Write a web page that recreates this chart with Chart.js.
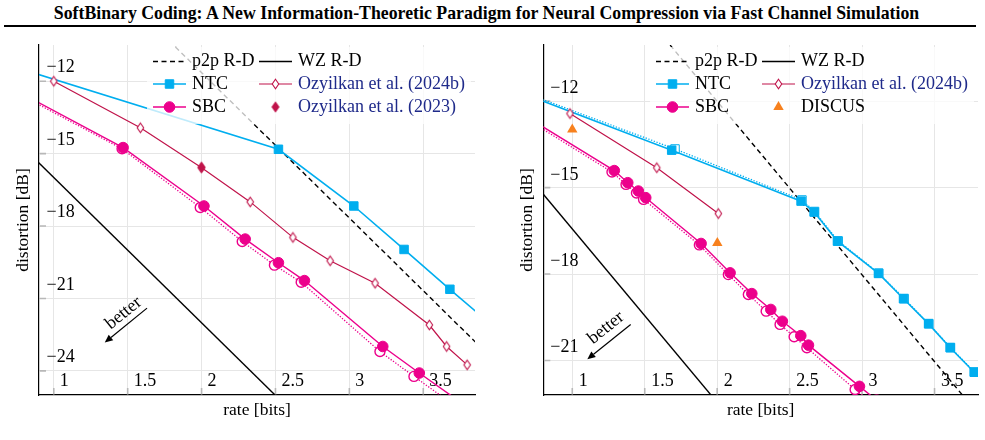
<!DOCTYPE html>
<html>
<head>
<meta charset="utf-8">
<script src="https://cdn.jsdelivr.net/npm/chart.js@4.4.1/dist/chart.umd.min.js"></script>
<style>
  body { margin: 0; background: #fff; width: 985px; height: 440px; overflow: hidden; position: relative; font-family: 'Liberation Serif', serif; }
  #title { position: absolute; left: -6px; top: 3px; width: 985px; text-align: center; font-weight: bold; font-size: 17.8px; line-height: 20px; white-space: nowrap; }
  #rule { position: absolute; left: 4px; top: 25px; width: 972px; height: 2px; background: #000; }
  canvas { position: absolute; top: 0; }
</style>
</head>
<body>
<div id="title">SoftBinary Coding: A New Information-Theoretic Paradigm for Neural Compression via Fast Channel Simulation</div>
<div id="rule"></div>
<canvas id="left" width="492" height="440" style="left:0"></canvas>
<canvas id="right" width="490" height="440" style="left:495px"></canvas>
<script>
// tick positions
const X_TICKS = [1, 1.5, 2, 2.5, 3, 3.5];
const L_Y_TICKS = [-24, -21, -18, -15, -12];
const R_Y_TICKS = [-21, -18, -15, -12];

// left plot (rate [bits] / distortion [dB])
const L_wzRate = [0.8, 2.6];
const L_wzDist = [-14.79, -25.62];
const L_p2pRate = [1.7, 3.9];
const L_p2pDist = [-9.84, -23.09];
const L_ntcRate = [0.8, 2.52, 3.03, 3.37, 3.68, 4.0];
const L_ntcDist = [-11.54, -14.82, -17.17, -18.97, -20.62, -22.3];
const L_ozy24Rate = [1.0, 1.586, 1.998, 2.329, 2.618, 2.870, 3.174, 3.541, 3.658, 3.797];
const L_ozy24Dist = [-12.0, -13.93, -15.58, -17.0, -18.47, -19.44, -20.37, -22.10, -22.99, -23.75];
const L_ozy23Rate = [2.0];
const L_ozy23Dist = [-15.57];
const L_sbcRate = [0.8, 1.469, 2.016, 2.295, 2.520, 2.696, 3.226, 3.473, 3.75];
const L_sbcDist = [-12.57, -14.75, -17.17, -18.54, -19.52, -20.26, -22.99, -24.09, -25.29];
const L_sbcOpenRate = [0.8, 1.462, 1.991, 2.275, 2.493, 2.674, 3.207, 3.437, 3.75];
const L_sbcOpenDist = [-12.65, -14.80, -17.23, -18.64, -19.62, -20.33, -23.20, -24.23, -25.6];

// right plot
const R_wzRate = [0.7, 2.1];
const R_wzDist = [-14.63, -23.06];
const R_p2pRate = [1.6, 3.9];
const R_p2pDist = [-9.6, -23.45];
const R_ntcRate = [0.7, 1.686, 2.579, 2.669, 2.830, 3.113, 3.286, 3.459, 3.608, 3.774, 3.9];
const R_ntcDist = [-11.81, -13.70, -15.47, -15.85, -16.86, -17.98, -18.86, -19.73, -20.56, -21.41, -22.04];
const R_ntcDotRate = [0.7, 1.709, 2.585, 2.672, 2.835, 3.115, 3.29, 3.46, 3.61, 3.776, 3.9];
const R_ntcDotDist = [-11.76, -13.66, -15.43, -15.83, -16.85, -17.97, -18.85, -19.72, -20.55, -21.40, -22.03];
const R_ozy24Rate = [0.984, 1.583, 2.008];
const R_ozy24Dist = [-12.43, -14.31, -15.90];
const R_discusRate = [1.0, 2.001];
const R_discusDist = [-12.98, -16.92];
const R_sbcRate = [0.7, 1.290, 1.383, 1.456, 1.507, 1.889, 2.089, 2.239, 2.370, 2.450, 2.577, 2.630, 2.982, 3.1];
const R_sbcDist = [-12.59, -14.41, -14.83, -15.12, -15.35, -16.94, -17.96, -18.68, -19.23, -19.64, -20.14, -20.47, -21.90, -22.38];
const R_sbcOpenRate = [0.7, 1.274, 1.371, 1.443, 1.492, 1.877, 2.077, 2.215, 2.338, 2.434, 2.531, 2.619, 2.952, 3.1];
const R_sbcOpenDist = [-12.67, -14.46, -14.89, -15.19, -15.41, -16.99, -18.02, -18.71, -19.29, -19.75, -20.18, -20.56, -22.01, -22.62];

const FONT = "'Liberation Serif', 'DejaVu Serif', serif";
const NTC_C = '#00aeef', SBC_C = '#ec008c', OZY_C = '#c0134a', DISCUS_C = '#f7811e', CITE_C = '#1f2a8a';
const GRID_C = '#e6e6e6';

function pts(xs, ys) { return xs.map((x, i) => ({ x: x, y: ys[i] })); }

// pgfplots-like diamond (taller than wide)
function diamond(w, h, fill, stroke, lw) {
  const c = document.createElement('canvas');
  c.width = Math.ceil(w + lw * 2 + 2); c.height = Math.ceil(h + lw * 2 + 2);
  const g = c.getContext('2d');
  const cx = c.width / 2, cy = c.height / 2;
  g.beginPath();
  g.moveTo(cx, cy - h / 2); g.lineTo(cx + w / 2, cy); g.lineTo(cx, cy + h / 2); g.lineTo(cx - w / 2, cy);
  g.closePath();
  g.fillStyle = fill; g.fill();
  if (lw > 0) { g.strokeStyle = stroke; g.lineWidth = lw; g.stroke(); }
  return c;
}
const openDiamond = diamond(6.5, 9.5, '#fff', OZY_C, 1.1);
const fullDiamond = diamond(8, 11.5, OZY_C, OZY_C, 0);

function fmt(v) { return v < 0 ? '\u2212' + Math.abs(v) : String(v); }

function line(label, xs, ys, color, extra) {
  return Object.assign({
    label: label, data: pts(xs, ys), showLine: true, tension: 0,
    borderColor: color, borderWidth: 1.4, pointRadius: 0,
    pointBackgroundColor: color, pointBorderColor: color, pointBorderWidth: 1
  }, extra || {});
}

const decor = {
  id: 'decor',
  beforeDatasetsDraw(chart) {
    const { ctx, chartArea: a, scales: { x, y } } = chart;
    ctx.save();
    ctx.strokeStyle = '#b8b8b8'; ctx.lineWidth = 1.6;
    ctx.beginPath();
    x.ticks.forEach(t => { const p = x.getPixelForValue(t.value); ctx.moveTo(p, a.bottom - 0.6); ctx.lineTo(p, a.bottom - 7); });
    y.ticks.forEach(t => { const p = y.getPixelForValue(t.value); ctx.moveTo(a.left + 0.6, p); ctx.lineTo(a.left + 7, p); });
    ctx.stroke();
    ctx.restore();
  },
  afterDatasetsDraw(chart, args, o) {
    const { ctx, chartArea: a, scales: { x, y } } = chart;
    ctx.save();
    // legend box
    ctx.fillStyle = 'rgba(255,255,255,0.75)';
    ctx.fillRect(a.right - 328, a.top + 2, 324, 77);
    ctx.font = '18px ' + FONT;
    ctx.textBaseline = 'middle';
    const cols = [a.right - 322, a.right - 216];
    const rows = [a.top + 16.5, a.top + 39, a.top + 62];
    o.entries.forEach((e, i) => {
      const ds = chart.data.datasets[e.ds];
      const x0 = cols[Math.floor(i / 3)], yy = rows[i % 3];
      if (ds.showLine) {
        ctx.save();
        ctx.strokeStyle = ds.borderColor; ctx.lineWidth = ds.borderWidth;
        ctx.setLineDash(ds.borderDash || []);
        ctx.beginPath(); ctx.moveTo(x0, yy); ctx.lineTo(x0 + 33, yy); ctx.stroke();
        ctx.restore();
      }
      if (ds.pointRadius > 0) {
        ctx.save();
        ctx.fillStyle = ds.pointBackgroundColor; ctx.strokeStyle = ds.pointBorderColor;
        ctx.lineWidth = ds.pointBorderWidth;
        Chart.helpers.drawPoint(ctx, { pointStyle: ds.pointStyle, radius: ds.pointRadius, borderWidth: ds.pointBorderWidth, rotation: 0 }, x0 + 16.5, yy);
        ctx.restore();
      }
      ctx.fillStyle = e.color || '#000';
      ctx.fillText(e.text, x0 + 39, yy);
    });
    // "better" arrow
    const b = o.better;
    const tx = x.getPixelForValue(b.tail[0]), ty = y.getPixelForValue(b.tail[1]);
    const hx = x.getPixelForValue(b.head[0]), hy = y.getPixelForValue(b.head[1]);
    const ang = Math.atan2(hy - ty, hx - tx);
    const L = 8, W = 3.6;
    ctx.strokeStyle = '#000'; ctx.fillStyle = '#000'; ctx.lineWidth = 1.2;
    ctx.beginPath(); ctx.moveTo(tx, ty);
    ctx.lineTo(hx - Math.cos(ang) * L, hy - Math.sin(ang) * L); ctx.stroke();
    ctx.beginPath(); ctx.moveTo(hx, hy);
    ctx.lineTo(hx - Math.cos(ang) * L + Math.sin(ang) * W, hy - Math.sin(ang) * L - Math.cos(ang) * W);
    ctx.lineTo(hx - Math.cos(ang) * L - Math.sin(ang) * W, hy - Math.sin(ang) * L + Math.cos(ang) * W);
    ctx.closePath(); ctx.fill();
    ctx.save();
    ctx.translate(x.getPixelForValue(b.text[0]), y.getPixelForValue(b.text[1]));
    ctx.rotate(Math.atan2(ty - hy, tx - hx));
    ctx.font = '18px ' + FONT; ctx.textAlign = 'center';
    ctx.fillText('better', 0, 0);
    ctx.restore();
    // axis titles
    ctx.font = '17.5px ' + FONT; ctx.fillStyle = '#000';
    ctx.textAlign = 'center';
    ctx.fillText('rate [bits]', (a.left + a.right) / 2, a.bottom + 15);
    ctx.save();
    ctx.translate(a.left - 16, (a.top + a.bottom) / 2);
    ctx.rotate(-Math.PI / 2);
    ctx.fillText('distortion [dB]', 0, 0);
    ctx.restore();
    ctx.restore();
  }
};

function makeChart(id, c) {
  return new Chart(document.getElementById(id), {
    type: 'scatter',
    data: { datasets: c.datasets },
    options: {
      responsive: false, animation: false, events: [],
      layout: { padding: c.padding },
      scales: {
        x: {
          type: 'linear', min: c.xMin, max: c.xMax,
          afterFit: s => { s.height = 0; },
          afterBuildTicks: s => { s.ticks = X_TICKS.map(v => ({ value: v })); },
          grid: { color: GRID_C, lineWidth: 1, drawTicks: false },
          border: { color: '#000', width: 1.2 },
          ticks: { mirror: true, align: 'start', padding: 3, labelOffset: c.xOff, color: '#000', font: { family: FONT, size: 18 }, callback: fmt }
        },
        y: {
          type: 'linear', min: c.yMin, max: c.yMax,
          afterFit: s => { s.width = 0; },
          afterBuildTicks: s => { s.ticks = c.yTicks.map(v => ({ value: v })); },
          grid: { color: GRID_C, lineWidth: 1, drawTicks: false },
          border: { color: '#000', width: 1.2 },
          ticks: { mirror: true, padding: c.yPad, labelOffset: c.yOff, color: '#000', font: { family: FONT, size: 18 }, callback: fmt }
        }
      },
      plugins: { legend: { display: false }, tooltip: { enabled: false }, decor: c.decor }
    },
    plugins: [decor]
  });
}

function drawAll() {
  // left
  makeChart('left', {
    padding: { left: 39, right: 17, top: 45, bottom: 45 },
    xMin: 0.9, xMax: 3.85, yMin: -25, yMax: -10.5, yTicks: L_Y_TICKS,
    xOff: 6, yOff: -13.5, yPad: 7.5,
    datasets: [
      { label: 'Ozyilkan et al. (2023)', data: pts(L_ozy23Rate, L_ozy23Dist), showLine: false, pointStyle: fullDiamond, pointRadius: 5, pointBackgroundColor: OZY_C, pointBorderColor: OZY_C, pointBorderWidth: 0 },
      line('SBC', L_sbcRate, L_sbcDist, SBC_C, { pointStyle: 'circle', pointRadius: 5.3 }),
      line('SBC (open)', L_sbcOpenRate, L_sbcOpenDist, SBC_C, { borderDash: [1.3, 1.6], borderWidth: 1.3, pointStyle: 'circle', pointRadius: 5, pointBackgroundColor: '#fff', pointBorderWidth: 1.4 }),
      line('Ozyilkan et al. (2024b)', L_ozy24Rate, L_ozy24Dist, OZY_C, { borderWidth: 1.2, pointStyle: openDiamond, pointRadius: 5, pointBorderWidth: 1 }),
      line('NTC', L_ntcRate, L_ntcDist, NTC_C, { borderWidth: 1.6, pointStyle: 'rect', pointRadius: 6 }),
      line('p2p R-D', L_p2pRate, L_p2pDist, '#000', { borderDash: [5, 3.5], borderWidth: 1.4 }),
      line('WZ R-D', L_wzRate, L_wzDist, '#000', { borderWidth: 1.4 })
    ],
    decor: {
      entries: [
        { ds: 5, text: 'p2p R-D' }, { ds: 4, text: 'NTC' }, { ds: 1, text: 'SBC' },
        { ds: 6, text: 'WZ R-D' }, { ds: 3, text: 'Ozyilkan et al. (2024b)', color: CITE_C }, { ds: 0, text: 'Ozyilkan et al. (2023)', color: CITE_C }
      ],
      better: { tail: [1.631, -21.40], head: [1.345, -22.83], text: [1.473, -21.61] }
    }
  });

  // right
  makeChart('right', {
    padding: { left: 48.3, right: 7, top: 45, bottom: 45 },
    xMin: 0.8, xMax: 3.8, yMin: -22.2, yMax: -10.05, yTicks: R_Y_TICKS,
    xOff: 6.5, yOff: -12.7, yPad: 7,
    datasets: [
      { label: 'DISCUS', data: pts(R_discusRate, R_discusDist), showLine: false, pointStyle: 'triangle', pointRadius: 6, pointBackgroundColor: DISCUS_C, pointBorderColor: DISCUS_C, pointBorderWidth: 0 },
      line('SBC', R_sbcRate, R_sbcDist, SBC_C, { pointStyle: 'circle', pointRadius: 5.3 }),
      line('SBC (open)', R_sbcOpenRate, R_sbcOpenDist, SBC_C, { borderDash: [1.3, 1.6], borderWidth: 1.3, pointStyle: 'circle', pointRadius: 5, pointBackgroundColor: '#fff', pointBorderWidth: 1.4 }),
      line('Ozyilkan et al. (2024b)', R_ozy24Rate, R_ozy24Dist, OZY_C, { borderWidth: 1.2, pointStyle: openDiamond, pointRadius: 5, pointBorderWidth: 1 }),
      line('NTC', R_ntcRate, R_ntcDist, NTC_C, { borderWidth: 1.6, pointStyle: 'rect', pointRadius: 6 }),
      line('NTC (open)', R_ntcDotRate, R_ntcDotDist, NTC_C, { borderDash: [1.3, 1.6], borderWidth: 1.3, pointStyle: 'rect', pointRadius: 6, pointBackgroundColor: '#fff', pointBorderWidth: 1 }),
      line('p2p R-D', R_p2pRate, R_p2pDist, '#000', { borderDash: [5, 3.5], borderWidth: 1.4 }),
      line('WZ R-D', R_wzRate, R_wzDist, '#000', { borderWidth: 1.4 })
    ],
    decor: {
      entries: [
        { ds: 6, text: 'p2p R-D' }, { ds: 4, text: 'NTC' }, { ds: 1, text: 'SBC' },
        { ds: 7, text: 'WZ R-D' }, { ds: 3, text: 'Ozyilkan et al. (2024b)', color: CITE_C }, { ds: 0, text: 'DISCUS' }
      ],
      better: { tail: [1.403, -19.75], head: [1.104, -20.96], text: [1.233, -19.87] }
    }
  });
}

// make sure the serif face is ready before the canvases draw text
if (document.fonts && document.fonts.load) {
  document.fonts.load("18px 'Liberation Serif'").then(drawAll, drawAll);
} else {
  drawAll();
}
</script>
</body>
</html>
